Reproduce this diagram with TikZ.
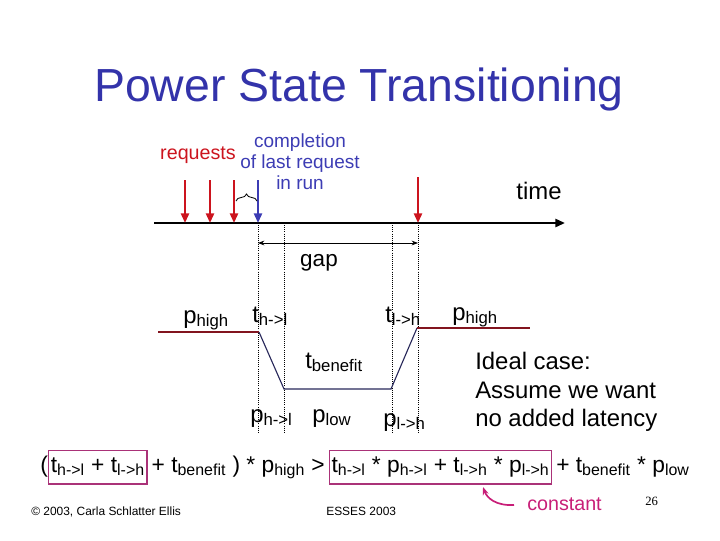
\documentclass[tikz,border=0pt]{standalone}
\usepackage{xcolor}
\usepackage{fontspec}
\setmainfont{Liberation Sans}
\newfontfamily\serifnum{Liberation Serif}
\usepackage{tikz}
\usetikzlibrary{arrows.meta, positioning, decorations.pathreplacing}
\definecolor{titleBlue}{RGB}{51,51,170}
\definecolor{reqRed}{RGB}{204,20,30}
\definecolor{doneBlue}{RGB}{60,60,180}
\definecolor{highRed}{RGB}{130,20,30}
\definecolor{lowNavy}{RGB}{40,40,90}
\definecolor{boxPink}{RGB}{170,50,120}
\definecolor{constPink}{RGB}{200,30,120}
\tikzstyle{arrow}    = [-{Triangle[length=2.4mm, width=2mm]}, line width=1.6pt]
\newcommand{\lbl}[2]{#1\textsubscript{#2}}

\begin{document}
\begin{tikzpicture}[x=0.025cm, y=-0.025cm,
  guide/.style={densely dotted, line width=0.5pt},
  plabel/.style={font=\fontsize{17}{20}\selectfont, anchor=base west, inner sep=0pt},
  eqtext/.style={font=\fontsize{16.2}{19}\selectfont, anchor=base west, inner sep=0pt},
  eqbox/.style={draw=boxPink, line width=0.8pt, inner xsep=1.5pt, inner ysep=0pt, text height=15.5pt, text depth=8.5pt},
  footer/.style={font=\fontsize{8.5}{10}\selectfont, anchor=base west, inner sep=0pt}
]
\useasboundingbox (0,0) rectangle (720,540);

% Title
\node[font=\fontsize{33}{40}\selectfont, text=titleBlue, anchor=base, inner sep=0pt] (title) at (359,101) {Power State Transitioning};

% Timeline
\coordinate (tl0) at (154,223);
\coordinate (tl1) at (565,223);
\draw[-{Triangle[length=2.4mm, width=2mm]}, line width=1.6pt] (tl0) -- (tl1);
\node[font=\fontsize{17}{20}\selectfont] (time) at (539,191) {time};

% Requests and completion
\foreach \x/\y [count=\i] in {185/180, 210/180, 234/180, 418/177} {
  \coordinate (req\i) at (\x,\y);
  \draw[arrow, reqRed] (req\i) -- (req\i |- tl0);
}
\coordinate (done) at (258,180);
\draw[arrow, doneBlue] (done) -- (done |- tl0);
\node[font=\fontsize{14}{16}\selectfont, text=reqRed] (requests) at (198,155) {requests};
\node[font=\fontsize{13.5}{15}\selectfont, text=doneBlue, align=center, anchor=north, inner sep=0pt] (completion) at (300,133)
  {completion\\of last request\\in run};
\coordinate (brL) at (236,201);
\coordinate (brR) at (257,201);
\draw[decorate, decoration={brace, amplitude=5pt}, line width=0.6pt] (brL) -- (brR);

% Gap markers
\foreach \x [count=\i] in {258, 284, 392, 418} {
  \coordinate (g\i) at (\x,223);
  \draw[guide] (g\i) -- ++(0,209);
}
\coordinate (gapL) at (258,243);
\coordinate (gapR) at (418,243);
\draw[{Stealth[length=1.6mm]}-{Stealth[length=1.6mm]}, line width=0.6pt] (gapL) -- (gapR);
\node[font=\fontsize{16}{19}\selectfont] (gap) at (319,263) {gap};

% Power profile
\coordinate (ph0) at (158,332);
\coordinate (ph1) at (259,332);
\coordinate (pl0) at (284,389);
\coordinate (pl1) at (391,389);
\coordinate (ph2) at (417,328);
\coordinate (ph3) at (530,328);
\draw[highRed, line width=0.8pt] (ph0) -- (ph1);
\draw[lowNavy, line width=0.8pt] (ph1) -- (pl0) -- (pl1) -- (ph2);
\draw[highRed, line width=0.8pt] (ph2) -- (ph3);

\node[plabel] (phighL) at (183,323) {\lbl{p}{high}};
\node[plabel] (thl) at (252,322) {\lbl{t}{h->l}};
\node[plabel] (tlh) at (385,322) {\lbl{t}{l->h}};
\node[plabel] (phighR) at (452,320) {\lbl{p}{high}};
\node[plabel] (tben) at (305,368) {\lbl{t}{benefit}};
\node[plabel] (phl) at (250,422) {\lbl{p}{h->l}};
\node[plabel] (plow) at (312,422) {\lbl{p}{low}};
\node[plabel] (plh) at (383,426) {\lbl{p}{l->h}};

% Ideal case note
\node[font=\fontsize{17}{20.3}\selectfont, align=left, anchor=north west, inner sep=0pt] (ideal) at (475,352)
  {Ideal case:\\Assume we want\\no added latency};

% Inequality
\node[eqtext] (eqA) at (40,472) {(};
\node[eqtext, eqbox] (eqB) at (eqA.base east) {\lbl{t}{h->l} + \lbl{t}{l->h}};
\node[eqtext] (eqC) at (eqB.base east) {\,+ \lbl{t}{benefit} ) * \lbl{p}{high} >\,};
\node[eqtext, eqbox] (eqD) at (eqC.base east) {\lbl{t}{h->l} * \lbl{p}{h->l} + \lbl{t}{l->h} * \lbl{p}{l->h}};
\node[eqtext] (eqE) at (eqD.base east) {\,+ \lbl{t}{benefit} * \lbl{p}{low}};

% Constant note
\node[font=\fontsize{14}{16}\selectfont, text=constPink, anchor=base west, inner sep=0pt] (constant) at (527,510) {constant};
\coordinate (cTail) at (514,505);
\coordinate (cHead) at (483,487);
\draw[constPink, line width=1.2pt, -{Stealth[length=2mm]}] (cTail) .. controls (496,506) and (487,498) .. (cHead);

% Footer
\node[footer] (copy) at (31,515) {\textcopyright{} 2003, Carla Schlatter Ellis};
\node[footer] (conf) at (326,515) {ESSES 2003};
\node[footer, font=\fontsize{9}{10}\serifnum] (page) at (645,505) {26};

\end{tikzpicture}
\end{document}
